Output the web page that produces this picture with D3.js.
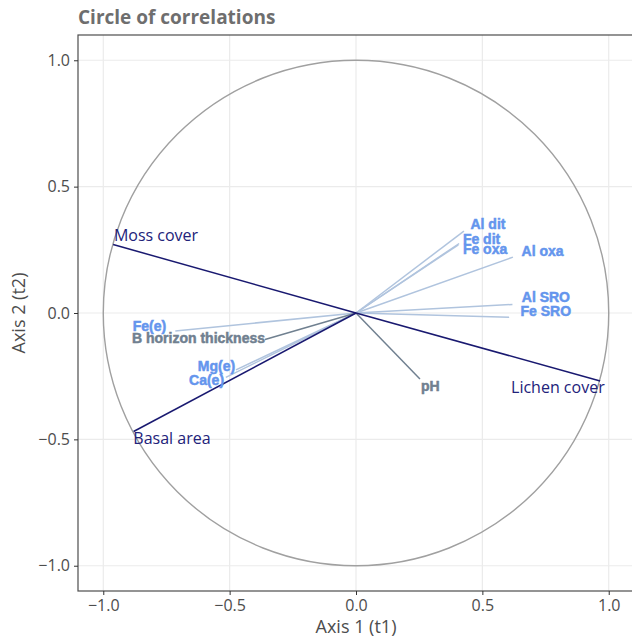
<!DOCTYPE html>
<html>
<head>
<meta charset="utf-8">
<script src="https://cdn.jsdelivr.net/npm/d3@7"></script>
<style>
  body { margin: 0; background: #fff; }
  svg { font-family: "Open Sans", sans-serif; }
</style>
</head>
<body>
<div id="chart"></div>
<script>
var width = 632;
var height = 639;

var margin = { "top": 35, "left": 78 };
var panelW = 556;
var panelH = 556;

// variables (correlation with axis 1 and axis 2)
var names = ["Moss cover", "Lichen cover", "Basal area", "pH", "B horizon thickness",
             "Fe(e)", "Mg(e)", "Ca(e)", "Al dit", "Fe dit", "Fe oxa", "Al oxa", "Al SRO", "Fe SRO"];
var groups = ["veg", "veg", "veg", "soil", "soil",
              "chem", "chem", "chem", "chem", "chem", "chem", "chem", "chem", "chem"];
var t1 = [-0.961, 0.966, -0.880, 0.253, -0.360, -0.715, -0.475, -0.515, 0.427, 0.408, 0.405, 0.621, 0.619, 0.606];
var t2 = [0.271, -0.269, -0.469, -0.261, -0.105, -0.071, -0.225, -0.255, 0.324, 0.275, 0.270, 0.221, 0.034, -0.017];

// label placement (repelled positions, in axis units)
var labT1 = [-0.958, 0.984, -0.881, 0.257, -0.360, -0.751, -0.478, -0.522, 0.453, 0.423, 0.423, 0.655, 0.656, 0.651];
var labT2 = [0.308, -0.293, -0.498, -0.289, -0.099, -0.051, -0.209, -0.265, 0.352, 0.292, 0.253, 0.245, 0.063, 0.008];

var ticks = [-1.0, -0.5, 0.0, 0.5, 1.0];

var lineColor = { "veg": "#191970", "soil": "#708090", "chem": "#b0c4de" };
var textColor = { "veg": "#22227a", "soil": "#708090", "chem": "#6495ed" };

var svg = d3.select("#chart")
            .append("svg")
            .attr("width", width)
            .attr("height", height);

var g = svg.append("g")
           .attr("transform", "translate(" + margin.left + "," + margin.top + ")");

var scaleX = d3.scaleLinear().domain([-1.1, 1.1]).range([0, panelW]);
var scaleY = d3.scaleLinear().domain([-1.1, 1.1]).range([panelH, 0]);

// grid
g.selectAll(".gx").data(ticks).enter().append("line")
  .attr("x1", function(d) { return scaleX(d) }).attr("x2", function(d) { return scaleX(d) })
  .attr("y1", 0).attr("y2", panelH)
  .attr("stroke", "#ebebeb").attr("stroke-width", 1.2);
g.selectAll(".gy").data(ticks).enter().append("line")
  .attr("y1", function(d) { return scaleY(d) }).attr("y2", function(d) { return scaleY(d) })
  .attr("x1", 0).attr("x2", panelW)
  .attr("stroke", "#ebebeb").attr("stroke-width", 1.2);

// unit circle
g.append("circle")
  .attr("cx", scaleX(0)).attr("cy", scaleY(0))
  .attr("r", scaleX(1) - scaleX(0))
  .attr("fill", "none").attr("stroke", "#a0a0a0").attr("stroke-width", 1.4);

var idx = d3.range(names.length);
var order = idx.filter(function(i) { return groups[i] == "chem" })
               .concat(idx.filter(function(i) { return groups[i] == "soil" }))
               .concat(idx.filter(function(i) { return groups[i] == "veg" }));

g.selectAll(".arrow").data(order).enter().append("line")
  .attr("x1", scaleX(0)).attr("y1", scaleY(0))
  .attr("x2", function(i) { return scaleX(t1[i]) })
  .attr("y2", function(i) { return scaleY(t2[i]) })
  .attr("stroke", function(i) { return lineColor[groups[i]] })
  .attr("stroke-width", 1.5);

g.selectAll(".lab").data(order).enter().append("text")
  .attr("x", function(i) { return scaleX(labT1[i]) })
  .attr("y", function(i) { return scaleY(labT2[i]) })
  .attr("dy", "0.35em")
  .attr("text-anchor", function(i) { return labT1[i] < 0 && groups[i] != "veg" || names[i] == "Lichen cover" ? "end" : "start" })
  .attr("fill", function(i) { return textColor[groups[i]] })
  .attr("stroke", function(i) { return groups[i] == "veg" ? "none" : textColor[groups[i]] })
  .attr("stroke-width", 0.5)
  .attr("font-family", function(i) { return groups[i] == "veg" ? "Open Sans, sans-serif" : "Liberation Sans, Arial, sans-serif" })
  .attr("font-weight", function(i) { return groups[i] == "veg" ? "normal" : "bold" })
  .attr("font-size", function(i) { return groups[i] == "veg" ? "16px" : "14px" })
  .text(function(i) { return names[i] });

// panel border
g.append("rect")
  .attr("width", panelW).attr("height", panelH)
  .attr("fill", "none").attr("stroke", "#4d4d4d").attr("stroke-width", 1.2);

// axes
var xAxis = d3.axisBottom(scaleX).tickValues(ticks).tickFormat(d3.format(".1f"))
              .tickSizeInner(4).tickSizeOuter(0).tickPadding(5);
var yAxis = d3.axisLeft(scaleY).tickValues(ticks).tickFormat(d3.format(".1f"))
              .tickSizeInner(4).tickSizeOuter(0).tickPadding(4);

var gx = g.append("g").attr("transform", "translate(0," + panelH + ")").call(xAxis);
var gy = g.append("g").call(yAxis);
[gx, gy].forEach(function(a) {
  a.select(".domain").remove();
  a.selectAll("line").attr("stroke", "#333");
  a.selectAll("text").attr("fill", "#4d4d4d").attr("font-size", "16px")
   .attr("font-family", "Open Sans, sans-serif")
   .text(function(d) { return d3.format(".1f")(d).replace("-", "\u2212") });
});

// titles
svg.append("text")
   .attr("x", margin.left).attr("y", 24)
   .attr("fill", "#6e6e6e").attr("font-weight", "bold").attr("font-size", "19px")
   .text("Circle of correlations");

svg.append("text")
   .attr("x", margin.left + scaleX(0)).attr("y", 633)
   .attr("text-anchor", "middle").attr("fill", "#4d4d4d").attr("font-size", "18px")
   .text("Axis 1 (t1)");

svg.append("text")
   .attr("transform", "translate(25," + (margin.top + scaleY(0)) + ") rotate(-90)")
   .attr("text-anchor", "middle").attr("fill", "#4d4d4d").attr("font-size", "18px")
   .text("Axis 2 (t2)");
</script>
</body>
</html>
